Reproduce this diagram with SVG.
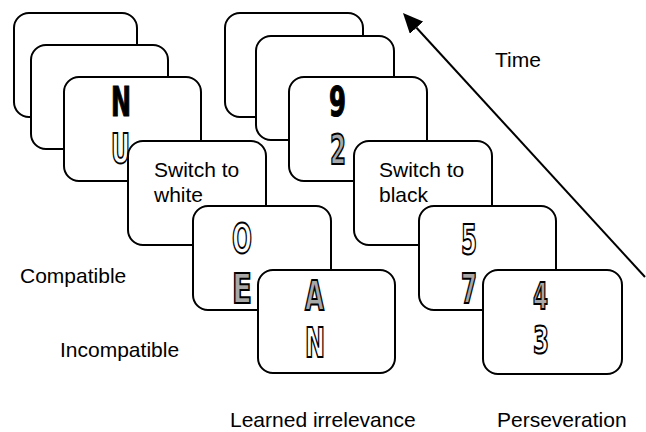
<svg xmlns="http://www.w3.org/2000/svg" width="646" height="432" viewBox="0 0 646 432">
<style>
.card{fill:#fff;stroke:#000;stroke-width:2}
.lbl{font-family:"Liberation Sans",Arial,Helvetica,sans-serif;font-size:21px;fill:#000}
.g{font-family:"DejaVu Sans","Liberation Sans",sans-serif;font-weight:bold;font-size:40px}
.s{font-size:37px}
.blk{fill:#000;stroke:#000;stroke-width:1.2}
.wht{fill:#fff;stroke:#000;stroke-width:2}
.gry{fill:#a8a8a8;stroke:#000;stroke-width:2}
.conn{stroke:#000;stroke-width:2;fill:none}
</style>
<defs>
<marker id="ah" markerUnits="userSpaceOnUse" viewBox="0 0 20 18" refX="0" refY="9" markerWidth="20" markerHeight="18" orient="auto">
<path d="M0,0 L20,9 L0,18 z" fill="#000"/>
</marker>
</defs>
<rect width="646" height="432" fill="#fff"/>

<g id="left-1"><rect class="card" x="14" y="13" width="123" height="104" rx="15"/></g>
<g id="left-2"><rect class="card" x="31" y="45" width="137" height="104" rx="15"/></g>
<g id="left-3"><rect class="card" x="64" y="77" width="137" height="104" rx="15"/>
<text class="g blk" x="111" y="116" textLength="20" lengthAdjust="spacingAndGlyphs">N</text>
<text class="g wht" x="111" y="163" textLength="19" lengthAdjust="spacingAndGlyphs">U</text></g>
<g id="left-4"><rect class="card" x="128" y="141" width="138" height="104" rx="15"/>
<text class="lbl" x="154" y="177">Switch to</text>
<text class="lbl" x="154" y="202">white</text></g>
<g id="left-5"><rect class="card" x="193" y="206" width="138" height="104" rx="15"/>
<text class="g wht" x="232" y="253" textLength="20" lengthAdjust="spacingAndGlyphs">O</text>
<text class="g gry" x="232" y="303" textLength="20" lengthAdjust="spacingAndGlyphs">E</text></g>
<g id="left-6"><rect class="card" x="258" y="270" width="137" height="103" rx="15"/>
<text class="g gry" x="305" y="310" textLength="19" lengthAdjust="spacingAndGlyphs">A</text>
<text class="g wht" x="305" y="357" textLength="20" lengthAdjust="spacingAndGlyphs">N</text></g>

<g id="mid-1"><rect class="card" x="225" y="13" width="138" height="104" rx="15"/></g>
<g id="mid-2"><rect class="card" x="256" y="36" width="138" height="104" rx="15"/></g>
<g id="mid-3"><rect class="card" x="289" y="77" width="138" height="104" rx="15"/>
<text class="g blk" x="329" y="116" textLength="17" lengthAdjust="spacingAndGlyphs">9</text>
<text class="g gry" x="330" y="164" textLength="16" lengthAdjust="spacingAndGlyphs">2</text></g>
<g id="mid-4"><rect class="card" x="354" y="141" width="138" height="104" rx="15"/>
<text class="lbl" x="379" y="177">Switch to</text>
<text class="lbl" x="379" y="202">black</text></g>
<g id="mid-5"><rect class="card" x="419" y="206" width="137" height="104" rx="15"/>
<text class="g wht" x="461" y="254" textLength="16" lengthAdjust="spacingAndGlyphs">5</text>
<text class="g gry" x="461" y="303" textLength="16" lengthAdjust="spacingAndGlyphs">7</text></g>
<g id="mid-6"><rect class="card" x="483" y="270" width="139" height="104" rx="15"/>
<text class="g s gry" x="533" y="309" textLength="15" lengthAdjust="spacingAndGlyphs">4</text>
<text class="g s wht" x="533" y="353" textLength="16" lengthAdjust="spacingAndGlyphs">3</text></g>

<g id="connectors">
<line class="conn" x1="645" y1="277" x2="416.5" y2="27.7" marker-end="url(#ah)"/>
</g>

<g id="labels">
<text class="lbl" x="495" y="67">Time</text>
<text class="lbl" x="20" y="283">Compatible</text>
<text class="lbl" x="60" y="357">Incompatible</text>
<text class="lbl" x="230" y="427">Learned irrelevance</text>
<text class="lbl" x="497" y="427">Perseveration</text>
</g>
</svg>
